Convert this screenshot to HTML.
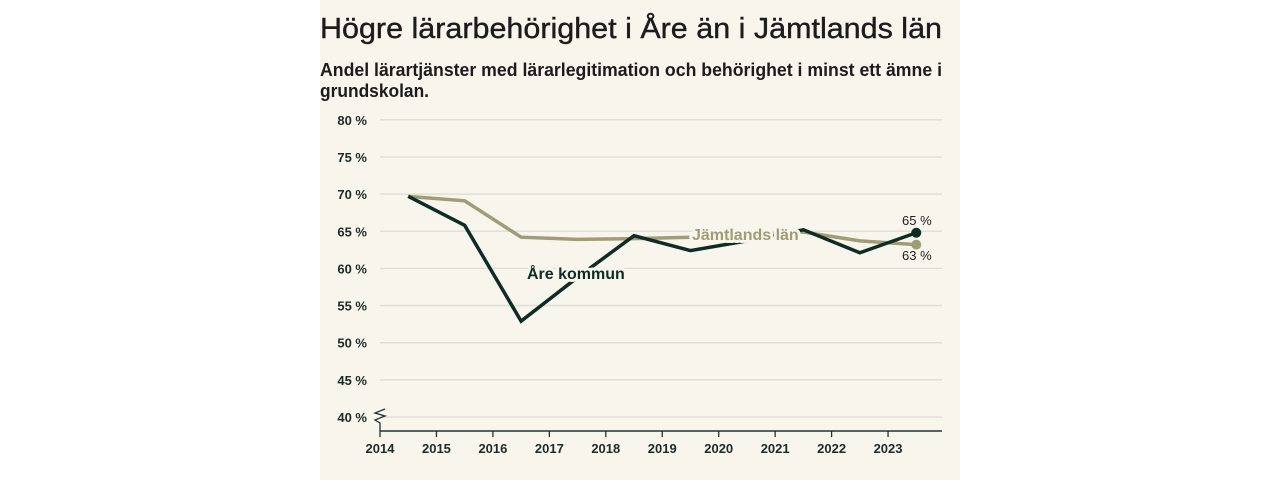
<!DOCTYPE html>
<html><head><meta charset="utf-8"><style>
html,body{margin:0;padding:0;background:#fff;width:1280px;height:480px;overflow:hidden}
svg{display:block;font-family:"Liberation Sans",sans-serif}
</style></head><body>
<svg width="1280" height="480">
<rect x="320" y="0" width="640" height="480" fill="#f8f6ec"/>
<text x="320" y="38" font-size="29" fill="#1c1c1c" stroke="#1c1c1c" stroke-width="0.4" textLength="622" lengthAdjust="spacingAndGlyphs">Högre lärarbehörighet i Åre än i Jämtlands län</text>
<text x="320" y="76" font-size="18" font-weight="bold" fill="#1c1c1c" textLength="622" lengthAdjust="spacingAndGlyphs">Andel lärartjänster med lärarlegitimation och behörighet i minst ett ämne i</text>
<text x="320" y="97" font-size="18" font-weight="bold" fill="#1c1c1c" textLength="109" lengthAdjust="spacingAndGlyphs">grundskolan.</text>
<g id="grid"></g><g id="axis"></g><g id="series"></g><g id="labels"></g>
</svg>
<script>
const years = [2014.5,2015.5,2016.5,2017.5,2018.5,2019.5,2020.5,2021.5,2022.5,2023.5];
const are = [69.7,65.8,52.9,58.8,64.4,62.4,63.7,65.2,62.1,64.8];
const jamt = [69.7,69.1,64.2,63.9,64.0,64.2,64.5,64.9,63.7,63.2];
const yTicks = [40,45,50,55,60,65,70,75,80];
const xTicks = [2014,2015,2016,2017,2018,2019,2020,2021,2022,2023];
const NS="http://www.w3.org/2000/svg";
const X=v=>380+(v-2014)*56.45, Y=v=>417-(v-40)*7.43;
function mk(t,a,p){const e=document.createElementNS(NS,t);for(const k in a)e.setAttribute(k,a[k]);document.getElementById(p).appendChild(e);return e;}
yTicks.forEach(v=>{
 const l=mk('line',{x1:380,x2:942,y1:Y(v),y2:Y(v),stroke:'#e2e0d6','stroke-width':1.5},'grid');
 
 
 const t=mk('text',{x:367,y:Y(v)+5,'text-anchor':'end','font-size':13,'font-weight':'bold',fill:'#1d2b28'},'grid');t.textContent=v+' %';
 
 
});
const ax=mk('line',{x1:380,x2:942,y1:431,y2:431,stroke:'#1d3530','stroke-width':1.5},'axis');


const br=mk('path',{d:'M380 431 L380 423 L375 420 L385 416 L375 413 L385 409',fill:'none',stroke:'#1d3530','stroke-width':1.3},'axis');


xTicks.forEach(v=>{
 mk('line',{x1:X(v),x2:X(v),y1:431,y2:437,stroke:'#1d3530','stroke-width':1.3},'axis');
 const t=mk('text',{x:X(v),y:453,'text-anchor':'middle','font-size':13,'font-weight':'bold',fill:'#1d2b28'},'axis');t.textContent=v;
 
 
});
function line(d,c,n){const p=mk('polyline',{points:d.map((v,i)=>X(years[i])+','+Y(v)).join(' '),fill:'none',stroke:c,'stroke-width':3.5,'stroke-linejoin':'miter'},'series');
 
 
 const c2=mk('circle',{cx:X(years[years.length-1]),cy:Y(d[d.length-1]),r:5,fill:c},'series');
 
 }
line(jamt,'#a09c76','jamtland-line');
line(are,'#0e2c26','are-line');
function lab(x,y,s,c,n,a){const t=mk('text',{x:x,y:y,'font-size':a||16,fill:c,stroke:'#f8f6ec','stroke-width':a?0:6,'paint-order':'stroke','stroke-linejoin':'round','font-weight':a?'normal':'bold'},'labels');t.textContent=s;
 
 }
lab(527,279,'Åre kommun','#0e2c26','are-label');
lab(692,240,'Jämtlands län','#a09c76','jamtland-label');
lab(902,225,Math.round(are[9])+' %','#1c1c1c','are-end-value',13);
lab(902,260,Math.round(jamt[9])+' %','#1c1c1c','jamtland-end-value',13);
</script>
</body></html>
